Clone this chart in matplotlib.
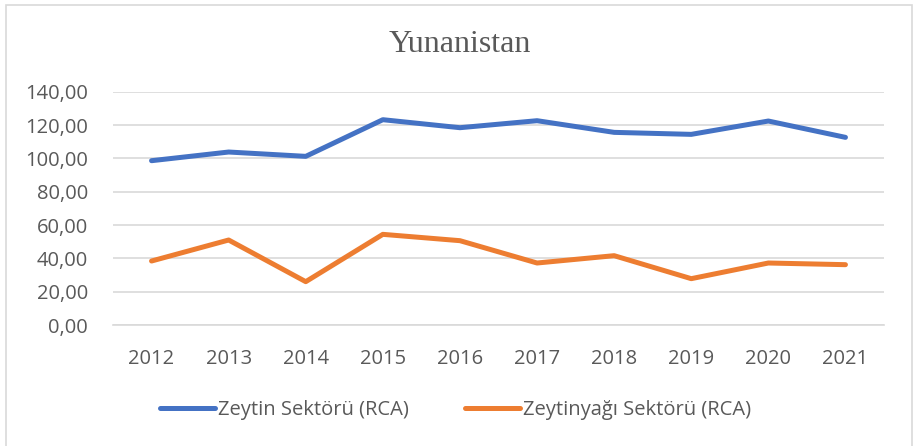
import matplotlib
matplotlib.use("Agg")
import matplotlib.pyplot as plt
from matplotlib.patches import Rectangle
from matplotlib.ticker import FuncFormatter

years = ["2012", "2013", "2014", "2015", "2016", "2017", "2018", "2019", "2020", "2021"]
zeytin = [98.6, 103.8, 101.2, 123.2, 118.4, 122.6, 115.6, 114.4, 122.4, 112.6]
zeytinyagi = [38.4, 51.0, 26.0, 54.4, 50.6, 37.2, 41.6, 27.8, 37.2, 36.2]
series_names = ["Zeytin Sektörü (RCA)", "Zeytinyağı Sektörü (RCA)"]
title = "Yunanistan"

W, H = 913, 446
fig = plt.figure(figsize=(W / 100, H / 100), dpi=100)
fig.patch.set_facecolor("white")

# chart border
fig.patches.append(Rectangle((6 / W, -0.01), (911.5 - 6) / W, 1 - 5 / H + 0.01,
                             transform=fig.transFigure, fill=False,
                             edgecolor="#d9d9d9", linewidth=1.2))

ax = fig.add_axes([113 / W, (H - 325) / H, (884 - 113) / W, (325 - 91.7) / H])
x = list(range(len(years)))
ax.plot(x, zeytin, color="#4472c4", lw=3.6, solid_capstyle="round", solid_joinstyle="round", label=series_names[0])
ax.plot(x, zeytinyagi, color="#ed7d31", lw=3.6, solid_capstyle="round", solid_joinstyle="round", label=series_names[1])

ax.set_xlim(-0.5, len(years) - 0.5)
ax.set_ylim(0, 140)
ax.set_yticks(range(0, 141, 20))
ax.yaxis.set_major_formatter(FuncFormatter(lambda v, p: f"{v:.2f}".replace(".", ",")))
ax.set_xticks(x)
ax.set_xticklabels(years)
ax.grid(axis="y", color="#d9d9d9", lw=1.2)
ax.set_axisbelow(True)
for s in ["top", "right", "left"]:
    ax.spines[s].set_visible(False)
ax.spines["bottom"].set_color("#d9d9d9")
ax.spines["bottom"].set_linewidth(1.2)
ax.tick_params(axis="both", length=0, labelsize=14.5, labelcolor="#595959")
ax.tick_params(axis="y", pad=18)
ax.tick_params(axis="x", pad=17)
for lbl in ax.get_xticklabels() + ax.get_yticklabels():
    lbl.set_fontfamily("Open Sans")

fig.text(460 / W, 1 - 51.7 / H, title, ha="center", va="baseline",
         fontsize=23, family="Liberation Serif", color="#595959")

leg = fig.legend(loc="center left", bbox_to_anchor=(160 / W, 1 - 410 / H), ncol=2,
                 frameon=False, prop={"family": "Open Sans", "size": 14.5},
                 handlelength=2.75, handletextpad=0.15, columnspacing=2.75,
                 borderpad=0, borderaxespad=0)
for t in leg.get_texts():
    t.set_color("#595959")
for l in leg.get_lines():
    l.set_linewidth(3.6)
    l.set_solid_capstyle("round")

fig.savefig("out.png", dpi=100, facecolor="white")
